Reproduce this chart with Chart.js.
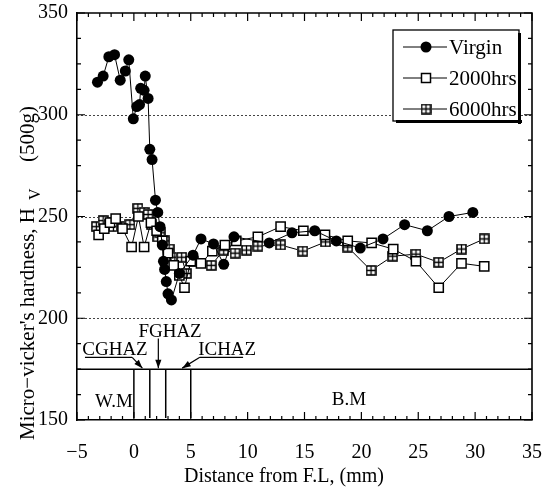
<!DOCTYPE html>
<html>
<head>
<meta charset="utf-8">
<script src="https://cdn.jsdelivr.net/npm/chart.js@4.4.0/dist/chart.umd.min.js"></script>
<style>
body{margin:0;background:#fff}
canvas{display:block}
</style>
</head>
<body>
<canvas id="hv" width="544" height="495"></canvas>
<script>
// values (distance from fusion line, mm / Hv)
const virginX = [-3.2,-2.7,-2.2,-1.7,-1.2,-0.75,-0.45,-0.05,0.25,0.5,0.6,0.9,1.0,1.25,1.4,1.6,1.9,2.1,2.3,2.5,2.6,2.7,2.85,3.0,3.3,4.0,5.2,5.9,7.0,7.9,8.8,11.9,13.9,15.9,17.8,19.9,21.9,23.8,25.8,27.7,29.8];
const virginY = [316,319,328.5,329.5,317,321.5,327,298,304,305,313,312,319,308,283,278,258,252,245,236,228,224,218,212,209,222,231,239,236.5,226.5,240,237,242,243,238,234.5,239,246,243,250,252];

const h2000X = [-3.1,-2.6,-2.1,-1.6,-1.0,-0.2,0.4,0.9,1.5,2.0,2.5,3.0,3.5,4.0,4.45,5.0,5.9,6.9,8.0,9.0,10.9,12.9,14.9,16.8,18.8,20.9,22.8,24.8,26.8,28.8,30.8];
const h2000Y = [241,244,247,249,244,235,250,235,247,243,238,232,226,221,215,228,227,233,236,238,240,245,243,241,238,237,234,228,215,227,225.5];

const h6000X = [-3.3,-2.7,-2.2,-1.8,-1.1,-0.35,0.35,0.9,1.25,1.55,2.1,2.3,2.7,3.1,3.6,4.2,4.6,5.2,6.8,7.9,8.9,9.9,10.9,12.9,14.85,16.85,18.8,20.85,22.75,24.8,26.8,28.8,30.8];
const h6000Y = [245,248,246,245,245,246,254,252,251,246,240,242,238,234,230,230,222,228,226,233.5,232,233.5,235.5,236,233,237.5,235,223.5,230.5,231.5,227.5,234,239];

const seriesNames = ['Virgin','2000hrs','6000hrs'];
const gridValues = [200,250,300];
const zoneBounds = [0,1.4,2.8,5];
const zoneTop = 175;

const FONT = "'Liberation Serif', 'DejaVu Serif', serif";

function pts(xs, ys){
    return xs.map((x,i)=>({x:x, y:ys[i]}));
}

function crossSquare(){
    var c = document.createElement('canvas');
    c.width = 11; c.height = 11;
    var g = c.getContext('2d');
    g.fillStyle = '#fff';
    g.fillRect(0,0,11,11);
    g.strokeStyle = '#000';
    g.lineWidth = 1.6;
    g.strokeRect(1,1,9,9);
    g.lineWidth = 1.3;
    g.beginPath();
    g.moveTo(5.5,1); g.lineTo(5.5,10);
    g.moveTo(1,5.5); g.lineTo(10,5.5);
    g.stroke();
    return c;
}
const crossImg = crossSquare();

function arrow(ctx, x1, y1, x2, y2){
    ctx.beginPath();
    ctx.moveTo(x1,y1); ctx.lineTo(x2,y2);
    ctx.stroke();
    var ang = Math.atan2(y2-y1, x2-x1);
    ctx.beginPath();
    ctx.moveTo(x2,y2);
    ctx.lineTo(x2-9*Math.cos(ang-0.35), y2-9*Math.sin(ang-0.35));
    ctx.lineTo(x2-9*Math.cos(ang+0.35), y2-9*Math.sin(ang+0.35));
    ctx.closePath();
    ctx.fill();
}

const decor = {
    id:'decor',
    beforeDatasetsDraw(chart){
        const {ctx, chartArea:a, scales:{x,y}} = chart;
        ctx.save();
        ctx.strokeStyle = '#444';
        ctx.lineWidth = 1;
        ctx.setLineDash([2,2]);
        gridValues.forEach(v=>{
            var py = Math.round(y.getPixelForValue(v))+0.5;
            ctx.beginPath(); ctx.moveTo(a.left,py); ctx.lineTo(a.right,py); ctx.stroke();
        });
        ctx.restore();
    },
    afterDatasetsDraw(chart){
        const {ctx, chartArea:a, scales:{x,y}} = chart;
        ctx.save();
        ctx.strokeStyle = '#000';
        ctx.fillStyle = '#000';
        ctx.lineWidth = 1.6;
        // top and right border
        ctx.beginPath();
        ctx.moveTo(a.left,a.top); ctx.lineTo(a.right,a.top); ctx.lineTo(a.right,a.bottom);
        ctx.stroke();
        // inner ticks
        ctx.lineWidth = 1.2;
        for (var v=-5; v<=35; v++){
            var px = x.getPixelForValue(v);
            var len = v%5==0 ? 8 : 4;
            ctx.beginPath();
            ctx.moveTo(px,a.bottom); ctx.lineTo(px,a.bottom-len);
            ctx.moveTo(px,a.top); ctx.lineTo(px,a.top+len);
            ctx.stroke();
        }
        for (var w=150; w<=350; w+=12.5){
            var py = y.getPixelForValue(w);
            var l2 = w%50==0 ? 8 : 4;
            ctx.beginPath();
            ctx.moveTo(a.left,py); ctx.lineTo(a.left+l2,py);
            ctx.moveTo(a.right,py); ctx.lineTo(a.right-l2,py);
            ctx.stroke();
        }
        // weld zone boxes
        ctx.lineWidth = 1.5;
        var zt = y.getPixelForValue(zoneTop);
        ctx.beginPath();
        ctx.moveTo(a.left,zt); ctx.lineTo(a.right,zt);
        zoneBounds.forEach(b=>{
            var bx = x.getPixelForValue(b);
            ctx.moveTo(bx,zt); ctx.lineTo(bx,y.getPixelForValue(151));
        });
        ctx.stroke();

        ctx.font = '19px ' + FONT;
        ctx.textAlign = 'center';
        ctx.textBaseline = 'middle';
        ctx.fillText('W.M', x.getPixelForValue(-1.75), y.getPixelForValue(159));
        ctx.fillText('B.M', x.getPixelForValue(18.9), y.getPixelForValue(160));
        ctx.fillText('CGHAZ', x.getPixelForValue(-1.66), y.getPixelForValue(184.3));
        ctx.fillText('FGHAZ', x.getPixelForValue(3.18), y.getPixelForValue(193.3));
        ctx.fillText('ICHAZ', x.getPixelForValue(8.2), y.getPixelForValue(184.3));
        ctx.lineWidth = 1.2;
        var ul = y.getPixelForValue(180.8);
        ctx.beginPath();
        ctx.moveTo(x.getPixelForValue(-4.3), ul); ctx.lineTo(x.getPixelForValue(-0.15), ul);
        ctx.moveTo(x.getPixelForValue(5.8), ul); ctx.lineTo(x.getPixelForValue(9.6), ul);
        ctx.stroke();
        arrow(ctx, x.getPixelForValue(-0.15), ul, x.getPixelForValue(0.75), zt-1);
        arrow(ctx, x.getPixelForValue(2.15), y.getPixelForValue(190), x.getPixelForValue(2.15), zt-1);
        arrow(ctx, x.getPixelForValue(5.8), ul, x.getPixelForValue(4.25), zt-1);

        // legend
        var lx = 393, ly = 30, lw = 126, lh = 91;
        ctx.fillStyle = '#fff';
        ctx.fillRect(lx,ly,lw,lh);
        ctx.fillStyle = '#000';
        ctx.fillRect(lx+lw-1, ly+3, 3, lh);
        ctx.fillRect(lx+3, ly+lh-1, lw, 3);
        ctx.lineWidth = 1.3;
        ctx.strokeRect(lx,ly,lw,lh);
        ctx.font = '21px ' + FONT;
        ctx.textAlign = 'left';
        var rows = [47,78,109];
        seriesNames.forEach((name,i)=>{
            var ry = rows[i];
            ctx.lineWidth = 1;
            ctx.beginPath(); ctx.moveTo(403,ry); ctx.lineTo(447,ry); ctx.stroke();
            if (i==0){
                ctx.beginPath(); ctx.arc(426,ry,5.5,0,Math.PI*2); ctx.fill();
            } else if (i==1){
                ctx.fillStyle='#fff'; ctx.fillRect(421.5,ry-4.5,9,9); ctx.fillStyle='#000';
                ctx.lineWidth = 1.5; ctx.strokeRect(421.5,ry-4.5,9,9);
            } else {
                ctx.drawImage(crossImg, 426-5.5, ry-5.5);
            }
            ctx.fillText(name, 449, ry+1);
        });

        // axis titles
        ctx.font = '20px ' + FONT;
        ctx.textAlign = 'center';
        ctx.fillText('Distance from F.L, (mm)', 284, 477);
        ctx.translate(28, 440);
        ctx.rotate(-Math.PI/2);
        ctx.textAlign = 'left';
        ctx.font = '21px ' + FONT;
        var t1 = "Micro\u2212vicker's hardness, H";
        ctx.fillText(t1, 0, 0);
        var w1 = ctx.measureText(t1).width;
        ctx.font = '16px ' + FONT;
        ctx.fillText('V', w1+8, 8);
        ctx.font = '21px ' + FONT;
        ctx.fillText('(500g)', w1+46, 0);
        ctx.restore();
    }
};

const ctx = document.getElementById('hv').getContext('2d');
const chart = new Chart(ctx, {
    type:'scatter',
    data:{
        datasets:[
            {
                label: seriesNames[0],
                data: pts(virginX, virginY),
                showLine:true,
                borderColor:'#000',
                borderWidth:1,
                backgroundColor:'#000',
                pointStyle:'circle',
                pointRadius:5.5,
                pointBorderWidth:0
            },
            {
                label: seriesNames[1],
                data: pts(h2000X, h2000Y),
                showLine:true,
                borderColor:'#000',
                borderWidth:1,
                backgroundColor:'#fff',
                pointStyle:'rect',
                pointRadius:6.5,
                pointBorderWidth:1.5
            },
            {
                label: seriesNames[2],
                data: pts(h6000X, h6000Y),
                showLine:true,
                borderColor:'#000',
                borderWidth:1,
                backgroundColor:'#fff',
                pointStyle:crossImg,
                pointRadius:5.5
            }
        ]
    },
    options:{
        responsive:false,
        animation:false,
        layout:{ padding:{ top:12, right:0, left:0, bottom:0 } },
        plugins:{
            legend:{ display:false },
            tooltip:{ enabled:false }
        },
        scales:{
            x:{
                type:'linear',
                min:-5, max:35,
                afterFit(s){ s.height = 75; s.paddingRight = 12; },
                grid:{ display:false },
                border:{ display:true, color:'#000', width:1.6 },
                ticks:{
                    stepSize:5,
                    padding:13,
                    color:'#000',
                    font:{ family:FONT, size:20 },
                    callback:v => v<0 ? '\u2212'+Math.abs(v) : ''+v
                }
            },
            y:{
                min:150, max:350,
                afterFit(s){ s.width = 77; },
                grid:{ display:false },
                border:{ display:true, color:'#000', width:1.6 },
                ticks:{
                    stepSize:50,
                    padding:1,
                    color:'#000',
                    font:{ family:FONT, size:20 }
                }
            }
        }
    },
    plugins:[decor]
});
</script>
</body>
</html>
